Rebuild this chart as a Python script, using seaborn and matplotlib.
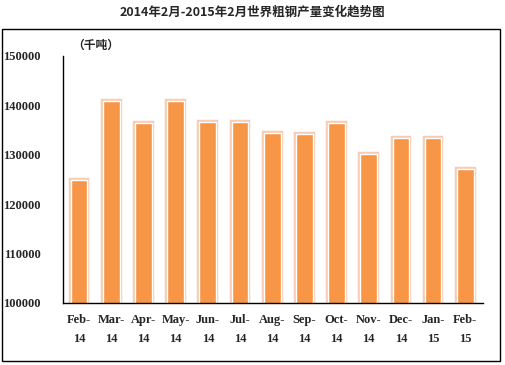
import matplotlib
matplotlib.use("Agg")
import matplotlib.pyplot as plt
import matplotlib.patheffects as pe
from matplotlib.patches import Rectangle
import seaborn as sns
import pandas as pd

months = ["Feb-\n14", "Mar-\n14", "Apr-\n14", "May-\n14", "Jun-\n14", "Jul-\n14", "Aug-\n14",
          "Sep-\n14", "Oct-\n14", "Nov-\n14", "Dec-\n14", "Jan-\n15", "Feb-\n15"]
output = [124800, 140950, 136450, 140850, 136700, 136550, 134350,
          134150, 136400, 130100, 133350, 133500, 127200]
yticks = [100000, 110000, 120000, 130000, 140000, 150000]
title = "2014年2月-2015年2月世界粗钢产量变化趋势图"
unit = "（千吨）"

sns.set_theme(style="white")
plt.rcParams['font.family'] = ['Liberation Serif', 'Noto Sans CJK SC', 'DejaVu Sans']

df = pd.DataFrame({"month": months, "output": output})

fig = plt.figure(figsize=(5.05, 3.65), dpi=100)
ax = fig.add_axes([63/505, (365-303)/365, (483-63)/505, (303-56)/365])

sns.barplot(data=df, x="month", y="output", ax=ax, color="#F79646", saturation=1,
            width=0.52, edgecolor="white", linewidth=1.0)
for p in ax.patches:
    p.set_path_effects([pe.withStroke(linewidth=3.2, foreground="#F5CDB5")])
    p.set_facecolor("#F79646")

ax.set_ylim(100000, 150000)
ax.set_xlim(-0.5, 12.55)
ax.set_yticks(yticks)
ax.set_yticklabels([str(v) for v in yticks], fontsize=9, fontweight="bold")
ax.set_xticklabels(months, fontsize=9, fontweight="bold", linespacing=1.75)
ax.set_xlabel("")
ax.set_ylabel("")
ax.tick_params(axis="y", direction="out", length=3, width=1, color="black", pad=13)
ax.tick_params(axis="x", length=0, pad=8)
for s in ["top", "right"]:
    ax.spines[s].set_visible(False)
for s in ["left", "bottom"]:
    ax.spines[s].set_color("black")
    ax.spines[s].set_linewidth(1.0)
ax.grid(False)

fig.text(252/505, 1 - 12/365, title, ha="center", va="center", fontsize=9,
         fontweight="bold", family=['Noto Sans CJK SC', 'DejaVu Sans'])
fig.text(72/505, 1 - 45/365, unit, ha="left", va="center", fontsize=8.5,
         fontweight="bold", family=['Noto Sans CJK SC', 'DejaVu Sans'])

fig.patches.append(Rectangle((1.5/505, 1 - 361/365), 498/505, 332/365,
                             transform=fig.transFigure, fill=False,
                             edgecolor="black", linewidth=1.0))

fig.savefig("out.png", dpi=100)
